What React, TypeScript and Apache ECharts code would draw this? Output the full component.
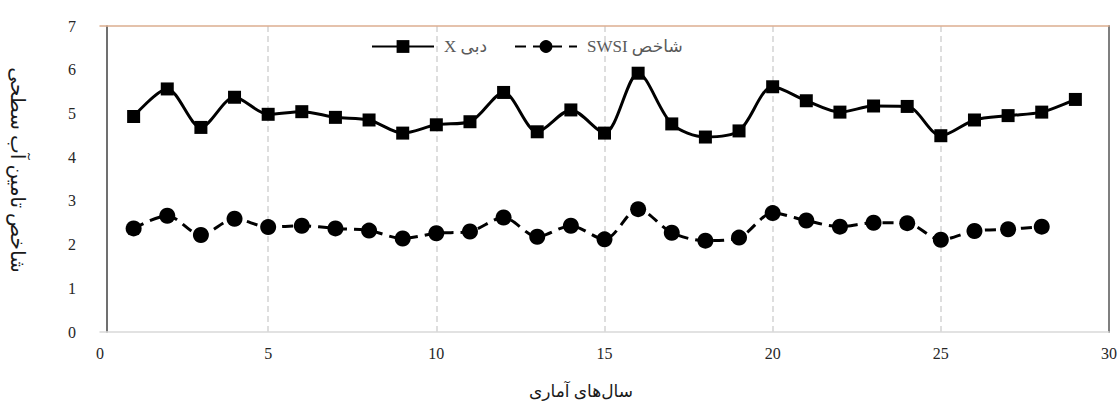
import React, { useEffect, useRef } from "react";
import * as echarts from "echarts";

const years = [
  1, 2, 3, 4, 5, 6, 7, 8, 9, 10, 11, 12, 13, 14, 15, 16, 17, 18, 19, 20, 21, 22, 23, 24, 25, 26, 27, 28, 29,
];
const dischargeX = [
  4.93, 5.56, 4.68, 5.37, 4.98, 5.04, 4.91, 4.85, 4.55, 4.74, 4.81, 5.48, 4.58, 5.08, 4.55, 5.92, 4.76, 4.46,
  4.6, 5.61, 5.29, 5.03, 5.17, 5.16, 4.49, 4.85, 4.95, 5.03, 5.32,
];
const swsi = [
  2.37, 2.66, 2.22, 2.59, 2.4, 2.43, 2.37, 2.32, 2.14, 2.26, 2.3, 2.62, 2.18, 2.43, 2.12, 2.81, 2.27, 2.09,
  2.16, 2.72, 2.55, 2.41, 2.5, 2.49, 2.11, 2.31, 2.35, 2.41,
];

const nameX = "\u202Bدبی X\u202C";
const nameSWSI = "\u202Bشاخص SWSI\u202C";
const xTitle = "سال‌های آماری";
const yTitle = "شاخص تامین آب سطحی";

const FONT = "'Liberation Serif', 'Times New Roman', 'DejaVu Sans', serif";

export default function App() {
  const ref = useRef<HTMLDivElement>(null);
  useEffect(() => {
    if (!ref.current) return;
    const chart = echarts.init(ref.current, undefined, { renderer: "svg" });
    chart.setOption({
      animation: false,
      backgroundColor: "#ffffff",
      textStyle: { fontFamily: FONT },
      grid: { left: 100, right: 9.5, top: 26, bottom: 74, containLabel: false },
      legend: {
        left: 366,
        top: 33,
        itemWidth: 62,
        itemHeight: 16,
        itemGap: 27,
        textStyle: { fontFamily: FONT, fontSize: 17, color: "#595959", padding: [0, 0, 0, 5] },
        data: [nameX, nameSWSI],
      },
      xAxis: [
        {
          type: "value",
          min: 0,
          max: 30,
          interval: 5,
          axisLine: { show: true, onZero: false, lineStyle: { color: "#d9d9d9", width: 1.5 } },
          axisTick: { show: false },
          axisLabel: { margin: 13, fontSize: 16, color: "#262626", fontFamily: FONT },
          splitLine: {
            show: true,
            showMinLine: false,
            showMaxLine: false,
            lineStyle: { type: [6, 4], color: "#d3d3d3", width: 1.5 },
          },
        },
        {
          type: "value",
          position: "top",
          min: 0,
          max: 30,
          interval: 5,
          axisLine: { show: true, onZero: false, lineStyle: { color: "#dcae90", width: 1.5 } },
          axisTick: { show: false },
          axisLabel: { show: false },
          splitLine: { show: false },
        },
      ],
      yAxis: [
        {
          type: "value",
          min: 0,
          max: 7,
          interval: 1,
          offset: -7,
          axisLine: { show: true, onZero: false, lineStyle: { color: "#404040", width: 1.5 } },
          axisTick: { show: false },
          axisLabel: { margin: 31, fontSize: 16, color: "#262626", fontFamily: FONT },
          splitLine: { show: false },
        },
        {
          type: "value",
          position: "right",
          min: 0,
          max: 7,
          interval: 1,
          axisLine: { show: true, onZero: false, lineStyle: { color: "#7f7f7f", width: 2 } },
          axisTick: { show: false },
          axisLabel: { show: false },
          splitLine: { show: false },
        },
      ],
      graphic: [
        {
          type: "text",
          x: 581,
          y: 391,
          style: {
            text: xTitle,
            fontFamily: FONT,
            fontSize: 17,
            fill: "#1a1a1a",
            textAlign: "center",
            textVerticalAlign: "middle",
          },
        },
        {
          type: "text",
          x: 18,
          y: 170,
          rotation: -Math.PI / 2,
          style: {
            text: yTitle,
            fontFamily: FONT,
            fontSize: 20,
            fill: "#1a1a1a",
            textAlign: "center",
            textVerticalAlign: "middle",
          },
        },
      ],
      series: [
        {
          name: nameX,
          type: "line",
          data: years.map((x, i) => [x, dischargeX[i]]),
          smooth: 0.3,
          symbol: "rect",
          symbolSize: 13,
          itemStyle: { color: "#000000" },
          lineStyle: { color: "#000000", width: 3 },
          z: 3,
        },
        {
          name: nameSWSI,
          type: "line",
          data: years.slice(0, swsi.length).map((x, i) => [x, swsi[i]]),
          smooth: 0.3,
          symbol: "circle",
          symbolSize: 16,
          itemStyle: { color: "#000000" },
          lineStyle: { color: "#000000", width: 3, type: [11, 7] },
          z: 3,
        },
      ],
    });
    return () => chart.dispose();
  }, []);
  return (
    <div
      ref={ref}
      style={{ position: "fixed", left: 0, top: 0, width: 1120, height: 406, background: "#fff" }}
    />
  );
}
